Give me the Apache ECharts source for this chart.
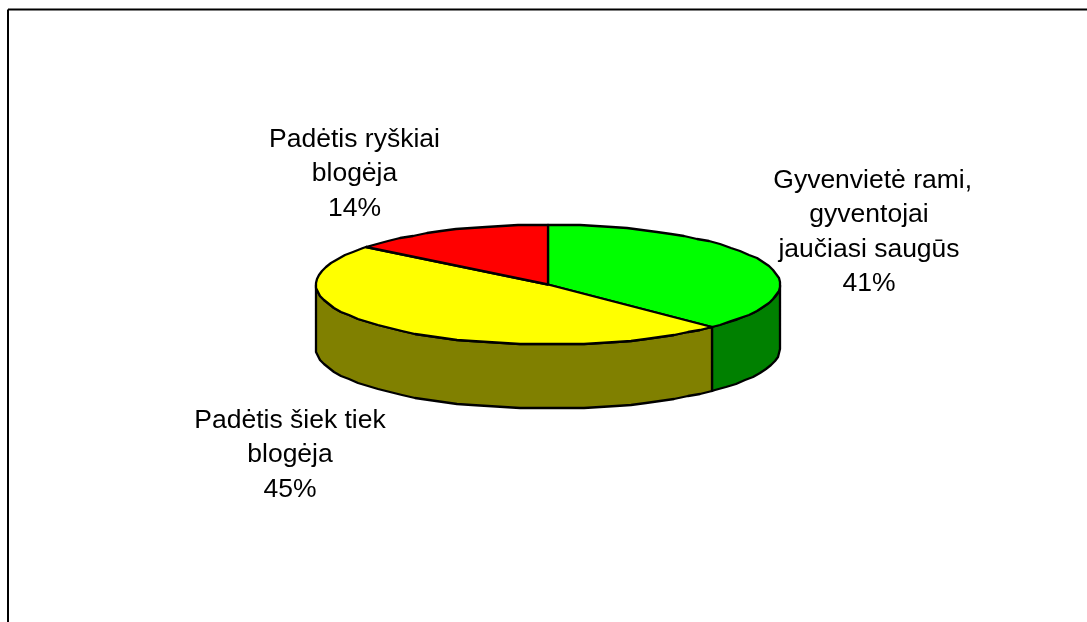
<!DOCTYPE html>
<html>
<head>
<meta charset="utf-8">
<style>
    html, body { margin: 0; padding: 0; background: #fff; }
    #chartMain { width: 1087px; height: 622px; }
</style>
<script src="https://cdn.jsdelivr.net/npm/echarts@6/dist/echarts.min.js"></script>
</head>
<body>
<div id="chartMain"></div>
<script>
    // leading space on the first name: that line sits a little right of the others in the original
    let sliceNames = [' Gyvenvietė rami,\ngyventojai\njaučiasi saugūs', 'Padėtis šiek tiek\nblogėja', 'Padėtis ryškiai\nblogėja'];
    let slicePercents = [41, 45, 14];
    // the wedges in the picture are not drawn quite to their printed percentages, these are measured off the disc
    let sliceSweeps = [37.5, 48.2, 14.3];
    let topColors = ['#00ff00', '#ffff00', '#ff0000'];
    let wallColors = ['#008000', '#808000', '#800000'];

    const cx = 548, cy = 284.5, rx = 232, ry = 60, depth = 64;
    const STEP = 4;     // rim is a polygon, like the original

    function rim(deg, drop) {
        let r = deg * Math.PI / 180;
        return [Math.round(cx + rx * Math.sin(r)), Math.round(cy - ry * Math.cos(r) + drop)];
    }

    function arc(a0, a1, drop) {
        let pts = [];
        for (let a = a0; a < a1; a += STEP) {
            pts.push(rim(a, drop));
        }
        pts.push(rim(a1, drop));
        return pts;
    }

    function renderSlice(params, api) {
        let a0 = api.value(0) * 3.6;
        let a1 = a0 + api.value(1) * 3.6;
        let line = { fill: topColors[params.dataIndex], stroke: '#000', lineWidth: 2.3, lineJoin: 'round' };
        let children = [];

        // only the front half of the disc shows a wall
        let w0 = Math.max(a0, 90), w1 = Math.min(a1, 270);
        if (w1 > w0) {
            let wall = arc(w0, w1, 0).concat(arc(w0, w1, depth).reverse());
            children.push({
                type: 'polygon',
                shape: { points: wall },
                style: Object.assign({}, line, { fill: wallColors[params.dataIndex] })
            });
        }

        children.push({
            type: 'polygon',
            shape: { points: [[cx, cy]].concat(arc(a0, a1, 0)) },
            style: line
        });
        return { type: 'group', children: children };
    }

    function labelText(i) {
        return sliceNames[i] + '\n' + slicePercents[i] + '%';
    }

    function label(i, x, y) {
        return {
            type: 'text',
            x: x,
            y: y,
            style: {
                text: labelText(i),
                fill: '#000',
                font: '26.5px "Liberation Sans", Arial, sans-serif',
                lineHeight: 34.5,
                align: 'center',
                verticalAlign: 'middle'
            }
        };
    }

    let started = 0;
    let sliceData = sliceSweeps.map((k) => {
        let row = [started, k];
        started += k;
        return row;
    });

    let myChart = echarts.init(document.getElementById('chartMain'), null, { renderer: 'canvas' });
    myChart.setOption({
        animation: false,
        backgroundColor: '#fff',
        graphic: [
            { type: 'line', shape: { x1: 8, y1: 9.5, x2: 1087, y2: 9.5 }, style: { stroke: '#000', lineWidth: 2 } },
            { type: 'line', shape: { x1: 8, y1: 9.5, x2: 8, y2: 622 }, style: { stroke: '#000', lineWidth: 2 } },
            label(2, 354.5, 174),
            label(0, 869, 232),
            label(1, 290, 455)
        ],
        series: [
            {
                type: 'custom',
                coordinateSystem: 'none',
                renderItem: renderSlice,
                data: sliceData
            }
        ]
    });
</script>
</body>
</html>
